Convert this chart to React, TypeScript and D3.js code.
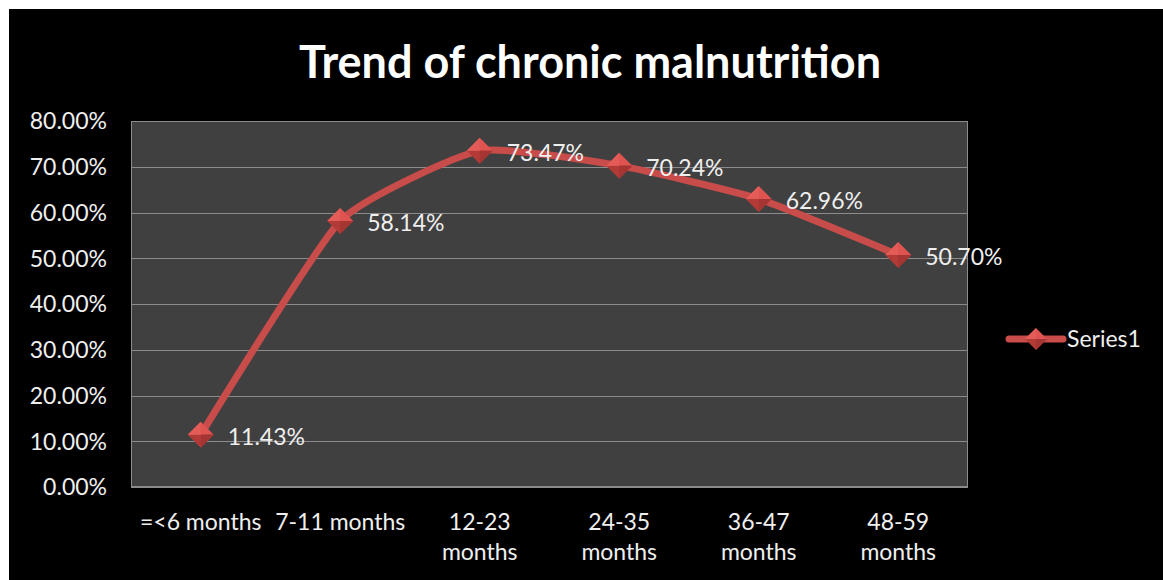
import React from "react";
import * as d3 from "d3";

const categoryLines: string[][] = [
  ["=<6 months"],
  ["7-11 months"],
  ["12-23", "months"],
  ["24-35", "months"],
  ["36-47", "months"],
  ["48-59", "months"],
];
const categories = categoryLines.map((l) => l.join(" "));
const seriesValues = [0.1143, 0.5814, 0.7347, 0.7024, 0.6296, 0.507];
const yTickValues = [0, 0.1, 0.2, 0.3, 0.4, 0.5, 0.6, 0.7, 0.8];
const seriesName = "Series1";
const title = "Trend of chronic malnutrition";

const W = 1163;
const H = 580;
const plot = { left: 131, right: 968, top: 121, bottom: 487 };
const FONT = "Lato, 'Open Sans', sans-serif";
const RED = "#C84C49";

function Diamond({ x, y, r }: { x: number; y: number; r: number }) {
  return (
    <g transform={`translate(${x},${y})`}>
      <path d={`M${-r},0 L0,${-r} L${r},0 Z`} fill="#DF5350" />
      <path d={`M${-r},0 L0,${r} L${r},0 Z`} fill="#B23B38" />
      <path d={`M${-r},0 L0,${-r} L0,0 Z`} fill="#E45C58" />
      <path d={`M${r},0 L0,${r} L0,0 Z`} fill="#A53532" />
    </g>
  );
}

export default function App() {
  const x = d3
    .scalePoint<string>()
    .domain(categories)
    .range([plot.left, plot.right])
    .padding(0.5);
  const y = d3.scaleLinear().domain([0, 0.8]).range([plot.bottom, plot.top]);
  const fmt = d3.format(".2%");

  const pts: [number, number][] = seriesValues.map((v, i) => [
    x(categories[i]) as number,
    y(v),
  ]);
  const line = d3.line().curve(d3.curveCardinal.tension(0.5))(pts) || "";

  return (
    <svg
      width={W}
      height={H}
      style={{ position: "absolute", left: 0, top: 0, display: "block" }}
    >
      <rect x={0} y={0} width={W} height={H} fill="#ffffff" />
      <rect x={9} y={9} width={W - 9} height={H - 9} fill="#000000" />

      <text
        x={590}
        y={78}
        textAnchor="middle"
        fill="#ffffff"
        fontFamily={FONT}
        fontWeight={700}
        fontSize={45}
      >
        {title}
      </text>

      <rect
        x={plot.left}
        y={plot.top}
        width={plot.right - plot.left}
        height={plot.bottom - plot.top}
        fill="#404040"
      />
      {yTickValues.map((t) => (
        <line
          key={t}
          x1={plot.left}
          x2={plot.right}
          y1={Math.round(y(t)) + 0.5}
          y2={Math.round(y(t)) + 0.5}
          stroke="#8C8C8C"
          strokeWidth={1}
        />
      ))}
      <rect
        x={plot.left + 0.5}
        y={plot.top + 0.5}
        width={plot.right - plot.left - 1}
        height={plot.bottom - plot.top - 1}
        fill="none"
        stroke="#8C8C8C"
        strokeWidth={1}
      />

      {yTickValues.map((t) => (
        <text
          key={"l" + t}
          x={107}
          y={y(t)}
          dy="0.36em"
          textAnchor="end"
          fill="#EFEFEF"
          fontFamily={FONT}
          fontSize={23}
        >
          {fmt(t)}
        </text>
      ))}

      {categoryLines.map((lines, i) => (
        <text
          key={"c" + i}
          x={x(categories[i]) as number}
          y={530}
          textAnchor="middle"
          fill="#EFEFEF"
          fontFamily={FONT}
          fontSize={23}
        >
          {lines.map((s, j) => (
            <tspan key={j} x={x(categories[i]) as number} dy={j === 0 ? 0 : 30}>
              {s}
            </tspan>
          ))}
        </text>
      ))}

      <path
        d={line}
        fill="none"
        stroke={RED}
        strokeWidth={7}
        strokeLinejoin="round"
        strokeLinecap="round"
      />
      {pts.map(([px, py], i) => (
        <Diamond key={"m" + i} x={px} y={py} r={13} />
      ))}
      {pts.map(([px, py], i) => (
        <text
          key={"d" + i}
          x={px + 27}
          y={py + 2}
          dy="0.36em"
          fill="#EFEFEF"
          fontFamily={FONT}
          fontSize={23}
        >
          {fmt(seriesValues[i])}
        </text>
      ))}

      <line
        x1={1009}
        x2={1063}
        y1={339}
        y2={339}
        stroke={RED}
        strokeWidth={7}
        strokeLinecap="round"
      />
      <Diamond x={1036} y={339} r={11} />
      <text
        x={1067}
        y={339}
        dy="0.36em"
        fill="#EFEFEF"
        fontFamily={FONT}
        fontSize={23}
      >
        {seriesName}
      </text>
    </svg>
  );
}
